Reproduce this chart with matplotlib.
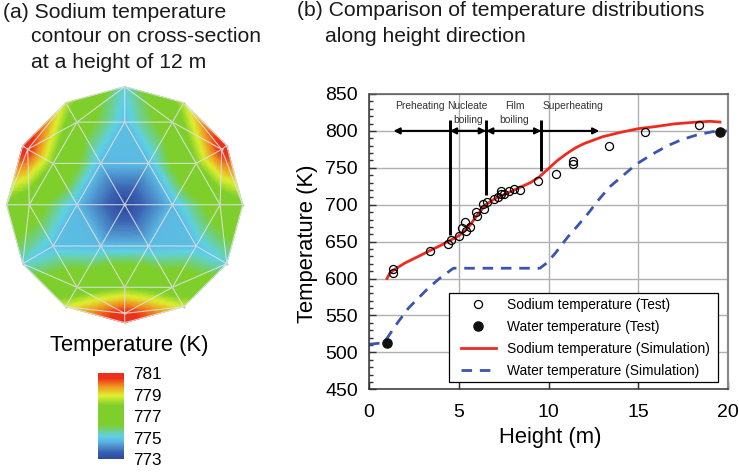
import numpy as np
import matplotlib
matplotlib.use("Agg")
import matplotlib.pyplot as plt
import matplotlib.tri as mtri
from matplotlib.cm import ScalarMappable
from matplotlib.colors import LinearSegmentedColormap, Normalize
from matplotlib.patches import Rectangle

plt.rcParams["font.family"] = ["Liberation Sans", "DejaVu Sans"]

# mesh of the cross-section (relative to centre)
node_x = [0, 47.7, -47.7, 23.8, -23.8, 23.8, -23.8, 0, 71.5, -71.5, 71.5, -71.5, 0,
          95.4, -95.4, 47.7, -47.7, 47.7, -47.7, 97, -97, 0,
          0, 102, -102, 0, -102, 102, 118, -118, 59, -59, -59, 59]
node_y = [0, 0, 0, 41.3, 41.3, -41.3, -41.3, 82.6, -41.3, -41.3, 41.3, 41.3, -82.6,
          0, 0, 82.6, 82.6, -82.6, -82.6, 55.3, 55.3, -108.7,
          118, 59, 59, -118, -59, -59, 0, 0, 102, 102, -102, -102]
node_t = [773, 774.7, 774.7, 774.7, 774.7, 774.7, 774.7, 774.8, 774.8, 774.8, 778.0, 778.0, 778.0,
          777, 777, 777, 777, 777.3, 777.3, 780.8, 780.8, 780.8,
          775.2, 781, 781, 781, 775.2, 775.2, 777.7, 777.7, 778.6, 778.6, 778.8, 778.8]

cmap_temps = [773, 773.6, 774.6, 775.1, 776.2, 778.0, 778.9, 779.8, 780.5, 781]
cmap_colors = ["#2c4a9e", "#3a5fb0", "#5ab4e0", "#5fd0e8", "#7ecf2b", "#7ecf2b",
               "#e0f030", "#f09020", "#ee3018", "#ee3018"]
bar_ticks = [773, 775, 777, 779, 781]

# test data
na_test_x = [1.36, 1.36, 3.38, 4.38, 4.55, 5.0, 5.18, 5.37, 5.4, 5.63, 6.0, 5.96, 6.4, 6.37, 6.59,
             6.96, 7.19, 7.37, 7.37, 7.52, 7.78, 8.08, 8.41, 9.4, 10.4, 11.38, 11.38, 13.37, 15.37, 18.38]
na_test_y = [612.5, 608, 637.6, 647, 652, 657, 669, 677, 665, 670, 685, 690.5, 694, 700.5, 703.6,
             708, 711, 714, 718.6, 715, 718, 721, 720, 732, 741, 759, 755, 779, 798, 808]
water_test_x = [1.02, 19.55]
water_test_y = [513, 798.5]

# simulation
na_sim_x = [1, 1.15, 1.4, 2, 3, 3.4, 4, 5, 5.5, 6, 6.5, 7, 8, 9, 9.5, 10, 10.5, 11, 11.5, 12, 13, 14, 15, 16, 17, 18, 19, 19.55]
na_sim_y = [600, 607, 612, 621, 633, 638, 645, 658, 668, 685, 700, 708, 719, 730, 738, 749, 760, 769, 777, 783, 792, 798, 803, 806, 809.5, 811.5, 813, 812]
water_sim_x = [0, 0.8, 1.0, 1.63, 2.2, 3.3, 3.95, 4.7, 9.52, 9.9, 10.4, 11.08, 11.57, 12.2, 12.77, 13.4, 14.17, 14.9, 15.75, 16.6, 17.4, 18.26, 19.15, 20]
water_sim_y = [511, 513, 519, 541.5, 560, 587, 600.6, 614, 614, 621, 635, 656.5, 670, 688, 706, 724, 740, 755, 768, 779.5, 788, 794.5, 799, 800]

W, H = 739, 473
fig = plt.figure(figsize=(W / 100, H / 100), dpi=100)


def px_rect(x0, y0, x1, y1):
    return [x0 / W, 1 - y1 / H, (x1 - x0) / W, (y1 - y0) / H]


def px_text(x, y, s, **kw):
    kw.setdefault("va", "center")
    fig.text(x / W, 1 - y / H, s, **kw)


vmin, vmax = cmap_temps[0], cmap_temps[-1]
stops = [(t - vmin) / (vmax - vmin) for t in cmap_temps]
cmap = LinearSegmentedColormap.from_list("temp", list(zip(stops, cmap_colors)), N=512)
norm = Normalize(vmin, vmax)

# (a) contour
ax_map = fig.add_axes(px_rect(4.7, 84.7, 244.7, 324.7))
tri = mtri.Triangulation(node_x, node_y)
# subdivide so the colours follow the values across each element
fine_tri, fine_t = mtri.UniformTriRefiner(tri).refine_field(
    np.array(node_t), triinterpolator=mtri.LinearTriInterpolator(tri, node_t), subdiv=4)
ax_map.tripcolor(fine_tri, fine_t, shading="gouraud", cmap=cmap, norm=norm)
ax_map.triplot(tri, color="#dfe3e6", lw=0.8, alpha=0.85)
ax_map.plot(node_x, node_y, "o", color="#c8c8c8", ms=1.6, mew=0)
ax_map.set_xlim(-120, 120)
ax_map.set_ylim(-120, 120)
ax_map.axis("off")

# colour bar
cax = fig.add_axes(px_rect(98, 373, 124, 459))
cb = fig.colorbar(ScalarMappable(norm=norm, cmap=cmap), cax=cax, ticks=bar_ticks)
cb.outline.set_visible(False)
cb.ax.tick_params(length=0, pad=6.5, labelsize=12.3)
px_text(129, 346, "Temperature (K)", ha="center", fontsize=15.8)

# (b) profile
ax = fig.add_axes(px_rect(369, 94, 728, 389.3))
ax.grid(True, color="#b0b0b0", lw=1)
ax.set_axisbelow(True)
ax.plot(water_sim_x, water_sim_y, color="#3a55b0", lw=2, dashes=(3.8, 2.8),
        label="Water temperature (Simulation)", zorder=2)
ax.plot(na_sim_x, na_sim_y, color="#f02a1e", lw=2, label="Sodium temperature (Simulation)", zorder=2)
ax.plot(na_test_x, na_test_y, "o", mfc="none", mec="black", mew=0.9, ms=5.8,
        label="Sodium temperature (Test)", zorder=3)
ax.plot(water_test_x, water_test_y, "o", color="#111111", ms=6.6, label="Water temperature (Test)",
        zorder=3, clip_on=False)

# stage arrows and dividers
for x0, x1 in [(4.5, 1.36), (4.5, 6.52), (6.52, 4.5), (6.52, 9.6), (9.6, 6.52), (9.6, 12.83)]:
    ax.annotate("", xy=(x1, 800), xytext=(x0, 800),
                arrowprops=dict(arrowstyle="-|>", color="black", lw=1.5, mutation_scale=9,
                                shrinkA=0, shrinkB=0), zorder=4)
ax.plot([4.5, 4.5], [659, 815], color="black", lw=2.1, solid_capstyle="butt", zorder=4)
ax.plot([6.52, 6.52], [713, 815], color="black", lw=2.1, solid_capstyle="butt", zorder=4)
ax.plot([9.6, 9.6], [746, 815], color="black", lw=2.1, solid_capstyle="butt", zorder=4)

stage_kw = dict(ha="center", fontsize=7.4, color="#333333")
px_text(420, 106, "Preheating", **stage_kw)
px_text(467.7, 106, "Nucleate", **stage_kw)
px_text(467.7, 120, "boiling", **stage_kw)
px_text(515, 106, "Film", **stage_kw)
px_text(514, 120, "boiling", **stage_kw)
px_text(573, 106, "Superheating", **stage_kw)

ax.set_xlim(0, 20)
ax.set_ylim(450, 850)
ax.set_xticks(range(0, 21, 5))
ax.set_yticks(range(450, 851, 50))
ax.set_yticks(range(450, 851, 10), minor=True)
ax.tick_params(axis="both", which="major", direction="in", length=5, width=1, labelsize=14, color="#333333")
ax.tick_params(axis="y", which="minor", direction="in", length=3, width=1, color="#333333")
ax.tick_params(axis="x", pad=10.5)
ax.tick_params(axis="y", pad=8)
for side in ["left", "bottom"]:
    ax.spines[side].set_color("#333333")
    ax.spines[side].set_linewidth(1.1)
ax.spines["top"].set_color("#555555")
ax.spines["top"].set_linewidth(1.1)
ax.spines["right"].set_color("#8a8a8a")
ax.spines["right"].set_linewidth(1.6)
px_text(550, 437, "Height (m)", ha="center", fontsize=15.8)
px_text(307, 244, "Temperature (K)", ha="center", rotation=90, fontsize=15.8)

# legend: box drawn separately so its padding can differ in x and y
ax.add_patch(Rectangle((449.3 / W, 1 - 382.3 / H), 269 / W, 89 / H, transform=fig.transFigure,
                       fc="white", ec="black", lw=0.9, zorder=4.5, clip_on=False))
handles, labels = ax.get_legend_handles_labels()
order = [2, 3, 1, 0]
leg = ax.legend([handles[i] for i in order], [labels[i] for i in order],
                loc="lower right", bbox_to_anchor=(709.5 / W, 1 - 378 / H),
                bbox_transform=fig.transFigure, fontsize=9.9, frameon=False,
                borderaxespad=0, borderpad=0, labelspacing=0.58, handlelength=2.55,
                handletextpad=0.8)
leg.set_zorder(5)

# panel titles
title_kw = dict(fontsize=15.2, color="#1a1a1a")
px_text(3, 12, "(a) Sodium temperature", **title_kw)
px_text(31, 37, "contour on cross-section", **title_kw)
px_text(31, 62, "at a height of 12 m", **title_kw)
px_text(297, 10, "(b) Comparison of temperature distributions", **title_kw)
px_text(325, 36, "along height direction", **title_kw)

fig.savefig("out.png", dpi=100)
